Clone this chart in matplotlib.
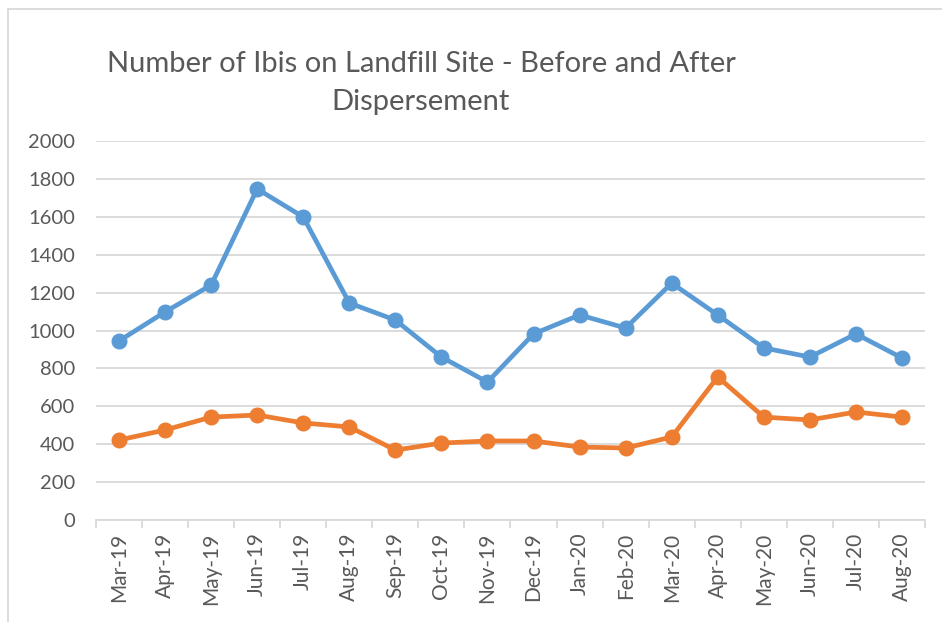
import numpy as np
import matplotlib.pyplot as plt
from matplotlib.lines import Line2D

# Data
months = ["Mar-19", "Apr-19", "May-19", "Jun-19", "Jul-19", "Aug-19", "Sep-19",
          "Oct-19", "Nov-19", "Dec-19", "Jan-20", "Feb-20", "Mar-20", "Apr-20",
          "May-20", "Jun-20", "Jul-20", "Aug-20"]
before = [945, 1098, 1240, 1747, 1599, 1145, 1055, 860, 728, 982, 1082, 1013,
          1250, 1082, 908, 860, 982, 855]
after = [422, 475, 543, 554, 512, 491, 369, 406, 417, 417, 385, 380, 438, 755,
         543, 528, 570, 543]
yticks = [0, 200, 400, 600, 800, 1000, 1200, 1400, 1600, 1800, 2000]

plt.rcParams['font.family'] = ['Lato', 'DejaVu Sans']
txt = '#595959'
grid = '#d9d9d9'

fig = plt.figure(figsize=(9.42, 6.22), dpi=100)
ax = fig.add_axes([96/942, 1-520/622, (925-96)/942, (520-141)/622])

x = np.arange(len(months))
ax.plot(x, before, color='#5b9bd5', lw=3.4, marker='o', ms=10.5, zorder=3, clip_on=False)
ax.plot(x, after, color='#ed7d31', lw=3.4, marker='o', ms=10.5, zorder=3, clip_on=False)

ax.set_xlim(-0.5, len(months) - 0.5)
ax.set_ylim(0, 2000)
ax.set_yticks(yticks)
ax.set_yticklabels([str(v) for v in yticks], fontsize=14.5, color=txt)
ax.tick_params(axis='y', length=0, pad=15)
ax.yaxis.grid(True, color=grid, lw=1.3)
ax.set_axisbelow(True)

# ticks sit on category boundaries, labels at category centres
ax.set_xticks(np.arange(-0.5, len(months)))
ax.set_xticklabels([])
ax.tick_params(axis='x', which='major', length=6, color=grid, width=1.3)
ax.set_xticks(x, minor=True)
ax.set_xticklabels(months, minor=True, rotation=90, fontsize=15, color=txt)
ax.tick_params(axis='x', which='minor', length=0, pad=9)

for s in ['top', 'right', 'left']:
    ax.spines[s].set_visible(False)
ax.spines['bottom'].set_color(grid)
ax.spines['bottom'].set_linewidth(1.3)

fig.text(421/942, 1-64/622, "Number of Ibis on Landfill Site - Before and After",
         ha='center', va='center', fontsize=21, color=txt)
fig.text(421/942, 1-102/622, "Dispersement",
         ha='center', va='center', fontsize=21, color=txt)

# outer chart border (left and top edges visible)
fig.add_artist(Line2D([8/942, 8/942], [0, 1-9/622], color=grid, lw=1.3))
fig.add_artist(Line2D([8/942, 1], [1-9/622, 1-9/622], color=grid, lw=1.3))

fig.savefig('out.png', dpi=100)
